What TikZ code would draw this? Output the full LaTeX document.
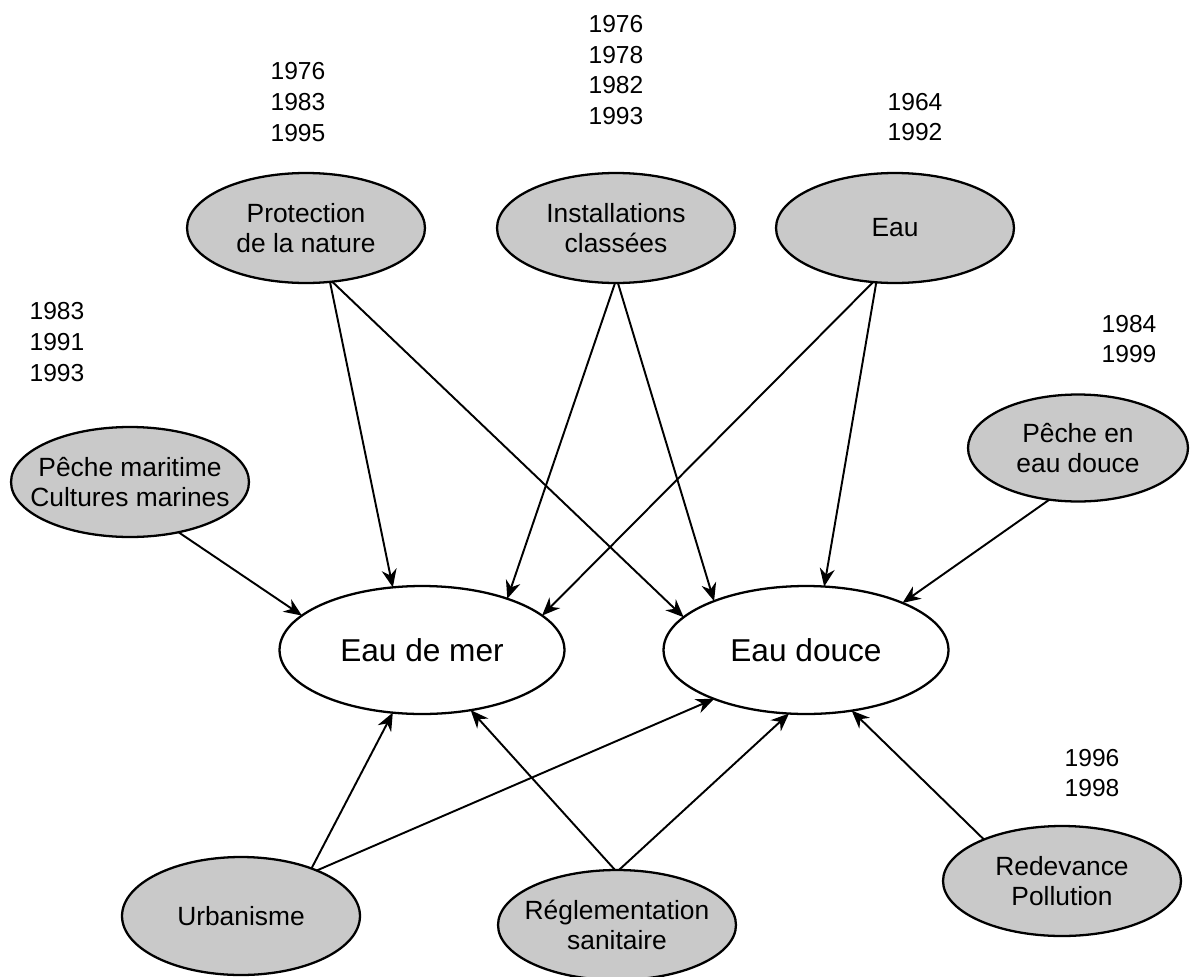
\documentclass[tikz,border=0pt]{standalone}
\usepackage{fontspec}
\setmainfont{Liberation Sans}
\usetikzlibrary{shapes.geometric}
\usetikzlibrary{arrows.meta}

\begin{document}
\begin{tikzpicture}[
        x=0.02cm, y=-0.02cm,
        theme/.style={ellipse, draw=black, line width=1.3pt, fill=gray!42, minimum width=4.76cm, minimum height=2.2cm, inner xsep=-10pt, inner ysep=0, outer sep=0, align=center, font=\fontsize{15}{17}\selectfont},
        water/.style={ellipse, draw=black, line width=1.3pt, fill=white, minimum width=5.7cm, minimum height=2.56cm, inner sep=0, outer sep=0, font=\fontsize{18}{22}\selectfont},
        years/.style={align=center, inner sep=0, font=\fontsize{14}{17.6}\selectfont},
        link/.style={-{Stealth[length=3.6mm,width=3mm]}, line width=1.1pt}
    ]
        \useasboundingbox (0,0) rectangle (1197,977);

        % les deux milieux
        \node[water] (mer) at (422,650) {Eau de mer};
        \node[water] (douce) at (806,650) {Eau douce};

        % les textes de loi
        \node[theme] (prot) at (306,228) {Protection\\de la nature};
        \node[theme] (inst) at (616,228) {Installations\\classées};
        \node[theme] (eau) at (895,228) {Eau};
        \node[theme] (pmar) at (130,482) {Pêche maritime\\Cultures marines};
        \node[theme, minimum width=4.4cm, minimum height=2.14cm] (ped) at (1078,448) {Pêche en\\eau douce};
        \node[theme, minimum height=2.36cm] (urb) at (241,916) {Urbanisme};
        \node[theme] (regl) at (617,925) {Réglementation\\sanitaire};
        \node[theme] (redev) at (1062,881) {Redevance\\Pollution};

        % les années
        \node[years] (prot-y) at (298,102) {1976\\1983\\1995};
        \node[years] (inst-y) at (616,70) {1976\\1978\\1982\\1993};
        \node[years] (eau-y) at (915,117) {1964\\1992};
        \node[years] (pmar-y) at (57,342) {1983\\1991\\1993};
        \node[years] (ped-y) at (1129,339) {1984\\1999};
        \node[years] (redev-y) at (1092,773) {1996\\1998};

        % les flèches
        \foreach \a/\b in {
            prot.-66/mer.115, prot.-64/douce.165,
            inst.-91/mer.31, inst.-88/douce.152,
            eau.-112/mer.16, eau.-109/douce.74,
            pmar.-46/mer.164, ped.-119/douce.26,
            regl.92/mer.-51, regl.88/douce.-105,
            urb.34/mer.-115, urb.31/douce.-152,
            redev.152/douce.-53
        } {
            \draw[link] (\a) -- (\b);
        }

    \end{tikzpicture}
\end{document}
